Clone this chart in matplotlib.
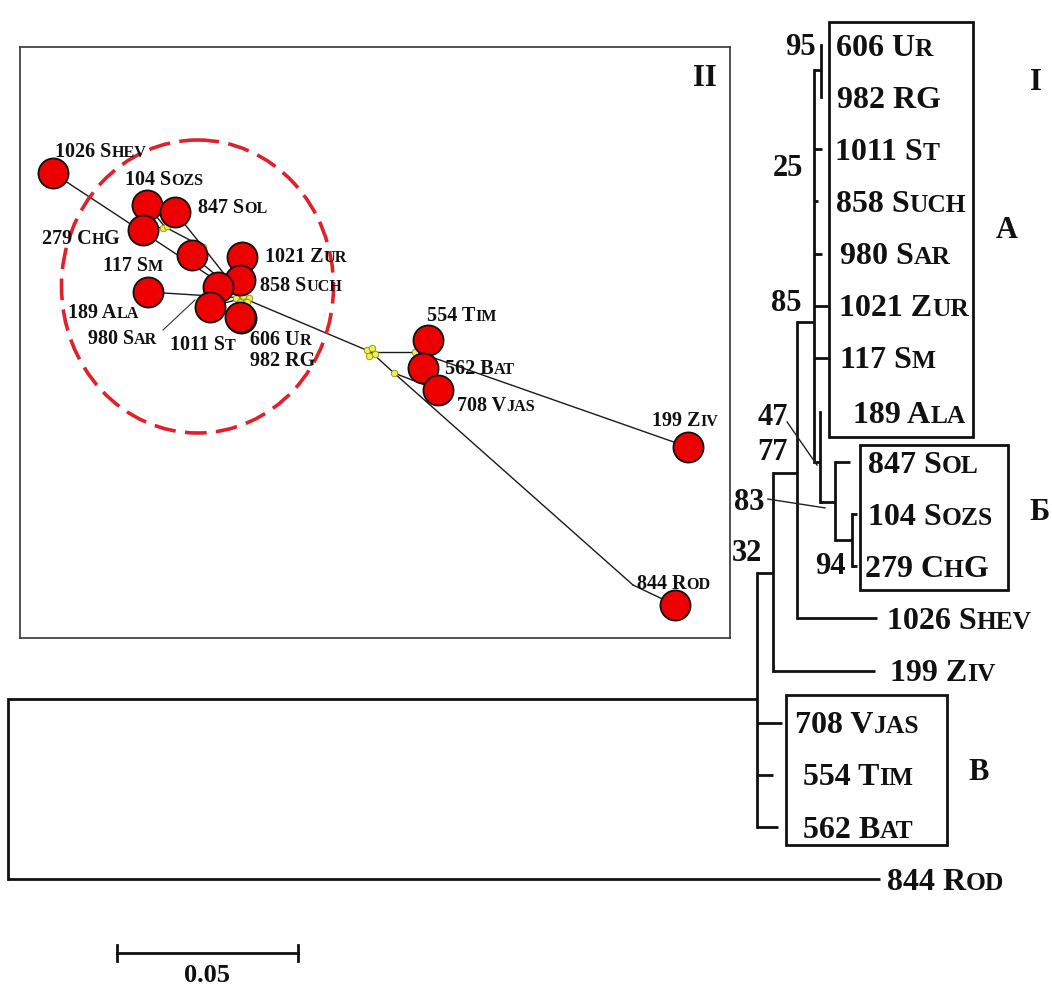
import matplotlib.pyplot as plt
from matplotlib.offsetbox import TextArea, HPacker, AnnotationBbox
from matplotlib.patches import Ellipse, Rectangle

SERIF = ["Liberation Serif", "DejaVu Serif"]

# ---------------- tree (x = distance from root, y = leaf row) ----------------
leaf_names = ["606 Ur", "982 RG", "1011 St", "858 Such", "980 Sar", "1021 Zur",
              "117 Sm", "189 Ala", "847 Sol", "104 Sozs", "279 ChG", "1026 Shev",
              "199 Ziv", "708 Vjas", "554 Tim", "562 Bat", "844 Rod"]
leaf_rows = [0, 1, 2, 3, 4, 5, 6, 7.04, 8, 9, 10, 11, 12, 13, 14, 15, 16]
leaf_label_x = [0.2287, 0.2290, 0.2285, 0.2287, 0.2298, 0.2296, 0.2298, 0.2334,
                0.2376, 0.2376, 0.2367, 0.2428, 0.2436, 0.2174, 0.2196, 0.2196, 0.2428]

# horizontal branches: (from depth, to depth, row)
branches = [(0, 0.2069, 12.55), (0, 0.2409, 16), (0.2069, 0.2113, 10.13),
            (0.2069, 0.2138, 13), (0.2069, 0.2113, 14), (0.2069, 0.2127, 15),
            (0.2113, 0.2180, 8.21), (0.2113, 0.2395, 12), (0.2180, 0.2227, 5.31),
            (0.2180, 0.2401, 11), (0.2227, 0.2246, 0.48), (0.2227, 0.2249, 2),
            (0.2227, 0.2238, 3), (0.2227, 0.2249, 4), (0.2227, 0.2265, 5),
            (0.2227, 0.2265, 6), (0.2227, 0.2243, 8.0), (0.2243, 0.2285, 8.77),
            (0.2285, 0.2326, 8), (0.2285, 0.2331, 9.5), (0.2331, 0.2345, 9),
            (0.2331, 0.2345, 10)]
# vertical stems: (depth, row top, row bottom)
stems = [(0, 12.55, 16), (0.2069, 10.13, 15), (0.2113, 8.21, 12), (0.2180, 5.31, 11),
         (0.2227, 0.48, 8.0), (0.2246, 0, 1), (0.2243, 7.04, 8.77), (0.2285, 8.0, 9.5),
         (0.2331, 9, 10)]

boot_values = ["95", "25", "85", "47", "77", "83", "32", "94"]
boot_x = [0.2188, 0.2155, 0.2149, 0.2113, 0.2113, 0.2047, 0.2041, 0.2271]
boot_rows = [0.04, 2.36, 4.95, 7.14, 7.81, 8.77, 9.75, 10.01]
# leader lines for crowded support values
leaders = {"47": ((0.2152, 7.23), (0.2235, 8.06)),
           "83": ((0.2099, 8.71), (0.2257, 8.88))}

clade_names = ["I", "А", "Б", "В"]
clade_x = [0.2840, 0.2760, 0.2851, 0.2682]
clade_rows = [0.71, 3.55, 8.96, 13.95]
# clade boxes: (x0, x1, row0, row1)
clade_boxes = [(0.2268, 0.2666, -0.44, 7.52), (0.2354, 0.2762, 7.67, 10.45),
               (0.2149, 0.2594, 12.47, 15.35)]

scale_len = 0.05
scale_start = 0.0301
scale_row = 17.42

# ---------------- network (inset layout coordinates) ----------------
net_pos = {
    "1026 Shev": (33, 126), "104 Sozs": (127, 158), "847 Sol": (155, 165),
    "279 ChG": (123, 183), "117 Sm": (172, 208), "189 Ala": (128, 245),
    "1021 Zur": (222, 210), "858 Such": (220, 233), "1011 St": (198, 240),
    "980 Sar": (190, 260), "982 RG": (221, 271), "606 Ur": (220, 270),
    "554 Tim": (408, 293), "562 Bat": (403, 321), "708 Vjas": (418, 343),
    "199 Ziv": (668, 400), "844 Rod": (655, 558),
}
net_label_pos = {
    "1026 Shev": (35, 105), "104 Sozs": (105, 133), "847 Sol": (178, 161),
    "279 ChG": (22, 192), "117 Sm": (83, 219), "1021 Zur": (245, 210),
    "858 Such": (240, 239), "189 Ala": (48, 266), "980 Sar": (68, 292),
    "1011 St": (150, 298), "606 Ur": (230, 293), "982 RG": (230, 314),
    "554 Tim": (407, 269), "562 Bat": (425, 322), "708 Vjas": (437, 359),
    "199 Ziv": (632, 374), "844 Rod": (617, 537),
}
junctions = {"J1": (223, 251), "J2": (145, 180), "J2b": (183, 200), "J3": (351, 305),
             "J4": (374, 326), "J5": (397, 305), "R1": (613, 538)}
junction_marks = [(216, 251), (223, 249), (229, 251), (220, 255), (227, 255),
                  (143, 181), (147, 179), (183, 200),
                  (347, 303), (352, 301), (355, 307), (349, 309), (374, 326), (395, 305)]
edges = [("1026 Shev", "J1"), ("104 Sozs", "J2"), ("279 ChG", "J2"), ("J2", "J2b"),
         ("847 Sol", "J2b"), ("J2b", "J1"), ("117 Sm", "J1"), ("189 Ala", "J1"),
         ("1021 Zur", "J1"), ("858 Such", "J1"), ("1011 St", "J1"), ("980 Sar", "J1"),
         ("606 Ur", "J1"), ("982 RG", "J1"), ("J1", "J3"), ("J3", "J5"),
         ("J5", "554 Tim"), ("J5", "562 Bat"), ("J5", "199 Ziv"), ("J3", "J4"),
         ("J4", "708 Vjas"), ("J4", "R1"), ("R1", "844 Rod")]
sar_leader = ((143, 283), (175, 253))
cluster_center = (177.5, 239.5)
cluster_size = (272, 293)


def smallcaps(ax, x, y, label, size, xycoords="data", zorder=5):
    # uppercase letters / digits full size, lowercase drawn as small capitals
    groups = []
    for ch in label:
        small = ch.islower()
        if groups and groups[-1][1] == small:
            groups[-1][0] += ch
        else:
            groups.append([ch, small])
    boxes = []
    for txt, small in groups:
        fs = size * 0.8 if small else size
        boxes.append(TextArea(txt.upper() if small else txt,
                              textprops=dict(family=SERIF, weight="bold",
                                             size=fs, color="#111111")))
    pack = HPacker(children=boxes, align="baseline", pad=0, sep=0)
    ab = AnnotationBbox(pack, (x, y), xycoords=xycoords, box_alignment=(0, 0.5),
                        frameon=False, pad=0, zorder=zorder)
    ax.add_artist(ab)


fig = plt.figure(figsize=(10.52, 9.85), dpi=100)
ax = fig.add_axes([0, 0, 1, 1])
ax.set_xlim(-8 / 3620, 1044 / 3620)
ax.set_ylim((985 - 45) / 52.13, -45 / 52.13)
ax.axis("off")

lw = 2.0
for x0, x1, r in branches:
    ax.plot([x0, x1], [r, r], color="#111111", lw=lw, solid_capstyle="butt")
for x, r0, r1 in stems:
    ax.plot([x, x], [r0, r1], color="#111111", lw=lw, solid_capstyle="projecting")

for name, r, lx in zip(leaf_names, leaf_rows, leaf_label_x):
    smallcaps(ax, lx, r + 0.06, name, 23)

for v, bx, br in zip(boot_values, boot_x, boot_rows):
    ax.text(bx, br, v, family=SERIF, weight="bold", size=22, ha="center", va="center",
            color="#111111")
for (p0, p1) in leaders.values():
    ax.plot([p0[0], p1[0]], [p0[1], p1[1]], color="#222222", lw=1.0)

for x0, x1, r0, r1 in clade_boxes:
    ax.add_patch(Rectangle((x0, r0), x1 - x0, r1 - r0, fill=False, ec="#111111", lw=2.0))
for c, cx, cr in zip(clade_names, clade_x, clade_rows):
    ax.text(cx, cr, c, family=SERIF, weight="bold", size=22, ha="center", va="center",
            color="#111111")

# scale bar
ax.plot([scale_start, scale_start + scale_len], [scale_row, scale_row], color="#111111", lw=2.0)
for sx in (scale_start, scale_start + scale_len):
    ax.plot([sx, sx], [scale_row - 0.16, scale_row + 0.16], color="#111111", lw=2.0)
ax.text(scale_start + scale_len / 2, scale_row + 0.2, "0.05", family=SERIF, weight="bold",
        size=19, ha="center", va="top", color="#111111")

# ---------------- inset network ----------------
ins = fig.add_axes([20 / 1052, 1 - 638 / 985, 710 / 1052, 591 / 985])
ins.set_xlim(0, 710)
ins.set_ylim(591, 0)
ins.set_xticks([])
ins.set_yticks([])
for sp in ins.spines.values():
    sp.set_linewidth(1.3)
    sp.set_color("#444444")

allpos = dict(net_pos)
allpos.update(junctions)
for a, b in edges:
    (xa, ya), (xb, yb) = allpos[a], allpos[b]
    ins.plot([xa, xb], [ya, yb], color="#1a1a1a", lw=1.0, zorder=1)
ins.plot([sar_leader[0][0], sar_leader[1][0]], [sar_leader[0][1], sar_leader[1][1]],
         color="#333333", lw=0.8, zorder=1)

ins.scatter([p[0] for p in junction_marks], [p[1] for p in junction_marks], s=22,
            c="#eeee55", edgecolors="#9a9a20", linewidths=0.7, zorder=2)

ins.add_patch(Ellipse(cluster_center, cluster_size[0], cluster_size[1], fill=False,
                      ec="#e0202a", lw=2.6, ls=(0, (6.0, 2.6)), zorder=2))

order = ["1026 Shev", "104 Sozs", "847 Sol", "279 ChG", "117 Sm", "189 Ala",
         "1021 Zur", "858 Such", "1011 St", "980 Sar", "982 RG", "606 Ur",
         "554 Tim", "562 Bat", "708 Vjas", "199 Ziv", "844 Rod"]
ins.scatter([net_pos[n][0] for n in order], [net_pos[n][1] for n in order], s=470,
            c="#ee0000", edgecolors="#111111", linewidths=1.3, zorder=3)

for n, (lx, ly) in net_label_pos.items():
    smallcaps(ins, lx, ly, n, 14.5, zorder=6)

ins.text(685, 31, "II", family=SERIF, weight="bold", size=22, ha="center", va="center",
         color="#111111")

fig.savefig("out.png", dpi=100, facecolor="white")
